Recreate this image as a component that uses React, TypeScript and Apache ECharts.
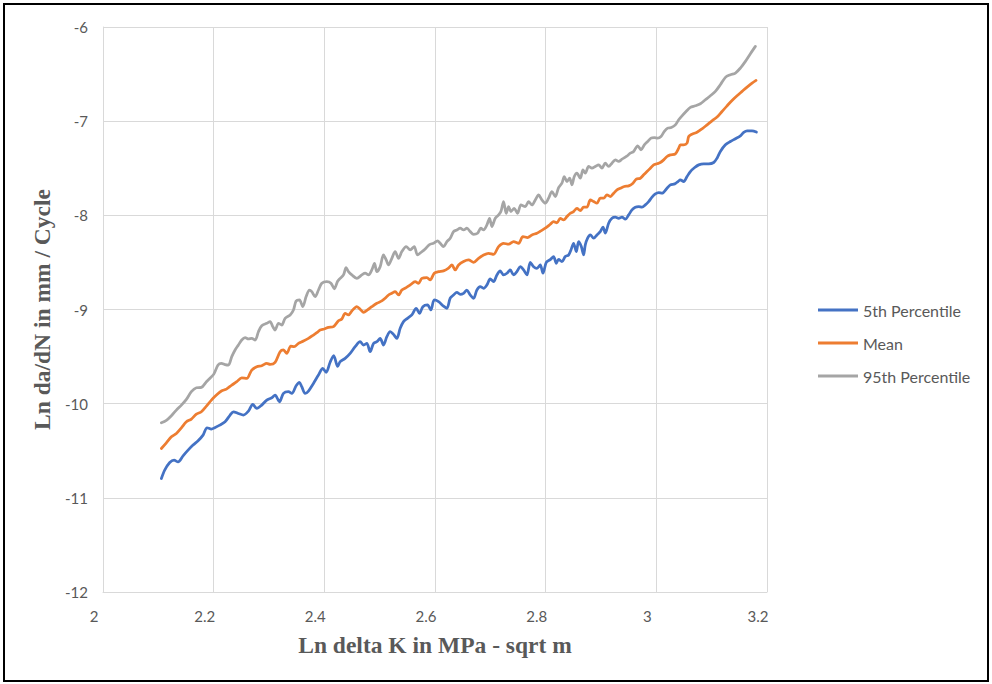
import React, { useEffect, useRef } from "react";
import * as echarts from "echarts";

const seriesNames = ["5th Percentile", "Mean", "95th Percentile"];
const seriesColors = ["#4472C4", "#ED7D31", "#A5A5A5"];

const xTicks = { min: 2, max: 3.2, interval: 0.2 };
const yTicks = { min: -12, max: -6, interval: 1 };

const p5: number[][] = [
  [2.1055, -10.795], [2.1115, -10.706], [2.1206, -10.625], [2.1284, -10.6], [2.1356, -10.618],
  [2.1447, -10.554], [2.1537, -10.494], [2.1627, -10.44], [2.1718, -10.394], [2.1808, -10.334],
  [2.1881, -10.256], [2.1959, -10.27], [2.2019, -10.256], [2.211, -10.228], [2.2206, -10.192],
  [2.2297, -10.121], [2.2357, -10.086], [2.2447, -10.104], [2.2538, -10.121], [2.2628, -10.079],
  [2.2707, -10.008], [2.2779, -10.051], [2.2869, -10.015], [2.296, -9.962], [2.305, -9.937],
  [2.311, -9.909], [2.3189, -9.98], [2.3261, -9.891], [2.3351, -9.873], [2.3412, -9.891],
  [2.349, -9.81], [2.355, -9.774], [2.3592, -9.82], [2.3653, -9.891], [2.3713, -9.866],
  [2.3803, -9.785], [2.3894, -9.696], [2.3972, -9.625], [2.4032, -9.668], [2.4105, -9.56],
  [2.417, -9.49], [2.424, -9.605], [2.4286, -9.554], [2.4376, -9.519], [2.4467, -9.466],
  [2.4557, -9.395], [2.4647, -9.342], [2.4708, -9.377], [2.4768, -9.36], [2.4828, -9.448],
  [2.4889, -9.36], [2.4949, -9.342], [2.5009, -9.307], [2.5069, -9.377], [2.513, -9.289],
  [2.519, -9.236], [2.525, -9.264], [2.531, -9.307], [2.5371, -9.2], [2.5431, -9.129],
  [2.5503, -9.094], [2.5582, -9.058], [2.566, -8.987], [2.572, -9.041], [2.5781, -8.97],
  [2.5865, -8.952], [2.5925, -9.005], [2.5986, -8.899], [2.6064, -8.917], [2.6154, -8.965],
  [2.6215, -8.987], [2.6275, -8.88], [2.6335, -8.846], [2.6395, -8.818], [2.6456, -8.839],
  [2.6516, -8.828], [2.6576, -8.793], [2.6637, -8.846], [2.6697, -8.881], [2.6757, -8.793],
  [2.6817, -8.757], [2.6878, -8.775], [2.6938, -8.739], [2.6998, -8.676], [2.7058, -8.704],
  [2.7119, -8.633], [2.7179, -8.591], [2.7239, -8.633], [2.73, -8.615], [2.736, -8.58],
  [2.742, -8.633], [2.748, -8.598], [2.7541, -8.545], [2.7601, -8.58], [2.7661, -8.633],
  [2.7722, -8.499], [2.7782, -8.545], [2.7842, -8.562], [2.7902, -8.527], [2.7951, -8.615],
  [2.8011, -8.499], [2.8083, -8.47], [2.8143, -8.438], [2.8192, -8.509], [2.8234, -8.467],
  [2.8294, -8.491], [2.8354, -8.438], [2.8415, -8.421], [2.8457, -8.368], [2.8505, -8.297],
  [2.8553, -8.385], [2.8596, -8.279], [2.8644, -8.332], [2.8686, -8.421], [2.8716, -8.314],
  [2.8758, -8.243], [2.8807, -8.208], [2.8867, -8.243], [2.8927, -8.208], [2.8987, -8.173],
  [2.9036, -8.126], [2.9078, -8.19], [2.9138, -8.084], [2.9198, -8.031], [2.9259, -8.02],
  [2.9319, -8.031], [2.9379, -8.02], [2.9439, -8.041], [2.95, -7.995], [2.956, -7.942],
  [2.962, -7.914], [2.9681, -7.907], [2.9741, -7.914], [2.9801, -7.889], [2.9861, -7.854],
  [2.9922, -7.807], [2.9982, -7.772], [3.0042, -7.758], [3.0103, -7.765], [3.0193, -7.712],
  [3.0253, -7.677], [3.0332, -7.666], [3.0392, -7.641], [3.0434, -7.623], [3.0494, -7.641],
  [3.0555, -7.588], [3.0615, -7.535], [3.0693, -7.492], [3.0766, -7.464], [3.0856, -7.453],
  [3.0947, -7.453], [3.1037, -7.439], [3.1097, -7.393], [3.1157, -7.322], [3.1248, -7.251],
  [3.1338, -7.216], [3.1429, -7.187], [3.1519, -7.156], [3.1579, -7.12], [3.164, -7.102],
  [3.173, -7.102], [3.1808, -7.116],
];

const mean: number[][] = [
  [2.1055, -10.476], [2.1145, -10.416], [2.1236, -10.352], [2.1326, -10.316], [2.1417, -10.256],
  [2.1507, -10.192], [2.1597, -10.164], [2.1688, -10.111], [2.1778, -10.086], [2.1869, -10.026],
  [2.1959, -9.962], [2.205, -9.909], [2.214, -9.866], [2.223, -9.845], [2.2327, -9.802],
  [2.2417, -9.767], [2.2507, -9.725], [2.2598, -9.732], [2.2688, -9.643], [2.2779, -9.608],
  [2.2869, -9.597], [2.296, -9.572], [2.302, -9.583], [2.311, -9.561], [2.3201, -9.448],
  [2.3261, -9.43], [2.3321, -9.466], [2.3394, -9.388], [2.3454, -9.395], [2.3532, -9.36],
  [2.3623, -9.335], [2.3713, -9.306], [2.3803, -9.271], [2.3864, -9.246], [2.3924, -9.218],
  [2.3996, -9.207], [2.4075, -9.19], [2.4165, -9.182], [2.4256, -9.12], [2.4316, -9.101],
  [2.4376, -9.041], [2.4436, -9.058], [2.4497, -9.016], [2.4587, -8.97], [2.466, -9.005],
  [2.4708, -9.03], [2.478, -9.005], [2.4858, -8.97], [2.4949, -8.934], [2.5039, -8.909],
  [2.5099, -8.881], [2.516, -8.846], [2.522, -8.828], [2.528, -8.81], [2.5341, -8.846],
  [2.5401, -8.793], [2.5479, -8.768], [2.5552, -8.739], [2.5642, -8.704], [2.5702, -8.722],
  [2.5763, -8.669], [2.5853, -8.662], [2.5913, -8.686], [2.5986, -8.615], [2.6064, -8.598],
  [2.6154, -8.59], [2.6245, -8.56], [2.6305, -8.527], [2.6365, -8.58], [2.6426, -8.527],
  [2.6516, -8.491], [2.6606, -8.474], [2.6697, -8.499], [2.6787, -8.456], [2.6878, -8.421],
  [2.6968, -8.403], [2.7058, -8.414], [2.7149, -8.332], [2.7239, -8.297], [2.733, -8.307],
  [2.742, -8.279], [2.7511, -8.297], [2.7589, -8.226], [2.7673, -8.236], [2.7752, -8.208],
  [2.7842, -8.19], [2.7914, -8.165], [2.7993, -8.137], [2.8083, -8.095], [2.8143, -8.066],
  [2.8204, -8.08], [2.8264, -8.031], [2.8324, -8.049], [2.8385, -8.013], [2.8445, -7.978],
  [2.8505, -7.96], [2.8565, -7.925], [2.8626, -7.949], [2.8686, -7.914], [2.8746, -7.914],
  [2.8807, -7.836], [2.8867, -7.854], [2.8927, -7.871], [2.8987, -7.818], [2.9048, -7.818],
  [2.9108, -7.783], [2.9168, -7.8], [2.9229, -7.765], [2.9289, -7.73], [2.9349, -7.712],
  [2.9421, -7.694], [2.95, -7.687], [2.9578, -7.659], [2.9638, -7.616], [2.9711, -7.606],
  [2.9771, -7.57], [2.9831, -7.535], [2.9892, -7.499], [2.9952, -7.464], [3.0012, -7.453],
  [3.0072, -7.439], [3.0133, -7.411], [3.0193, -7.375], [3.0253, -7.358], [3.0344, -7.347],
  [3.0404, -7.287], [3.0434, -7.251], [3.0494, -7.251], [3.0555, -7.233], [3.0585, -7.163],
  [3.0645, -7.138], [3.0735, -7.117], [3.0826, -7.081], [3.0916, -7.039], [3.1007, -6.996],
  [3.1097, -6.957], [3.1187, -6.897], [3.1278, -6.837], [3.1368, -6.78], [3.1459, -6.73],
  [3.1549, -6.684], [3.164, -6.638], [3.173, -6.596], [3.1802, -6.567],
];

const p95: number[][] = [
  [2.1055, -10.203], [2.1145, -10.178], [2.1236, -10.129], [2.1326, -10.068], [2.1417, -10.015],
  [2.1507, -9.955], [2.1597, -9.873], [2.1688, -9.831], [2.1778, -9.827], [2.1869, -9.767],
  [2.1929, -9.732], [2.2, -9.689], [2.2079, -9.59], [2.214, -9.572], [2.2206, -9.585],
  [2.2266, -9.59], [2.2327, -9.501], [2.2387, -9.43], [2.2447, -9.377], [2.2507, -9.324],
  [2.2568, -9.299], [2.2628, -9.313], [2.2688, -9.306], [2.2749, -9.324], [2.2809, -9.236],
  [2.2869, -9.172], [2.296, -9.147], [2.302, -9.129], [2.3068, -9.182], [2.311, -9.218],
  [2.3171, -9.147], [2.3231, -9.165], [2.3291, -9.094], [2.3382, -9.058], [2.3442, -9.005],
  [2.349, -8.91], [2.355, -8.899], [2.361, -8.97], [2.3671, -8.863], [2.3731, -8.793],
  [2.3773, -8.81], [2.3834, -8.863], [2.3894, -8.793], [2.3954, -8.722], [2.4045, -8.704],
  [2.412, -8.72], [2.418, -8.78], [2.424, -8.7], [2.4286, -8.669], [2.4346, -8.633],
  [2.4394, -8.555], [2.4436, -8.598], [2.4497, -8.633], [2.4587, -8.669], [2.4678, -8.633],
  [2.4738, -8.615], [2.4798, -8.633], [2.4858, -8.58], [2.4907, -8.509], [2.4949, -8.598],
  [2.5009, -8.545], [2.5069, -8.421], [2.5118, -8.474], [2.516, -8.527], [2.522, -8.456],
  [2.528, -8.385], [2.5341, -8.456], [2.5401, -8.385], [2.5479, -8.332], [2.5552, -8.367],
  [2.5624, -8.332], [2.5684, -8.421], [2.5744, -8.395], [2.5823, -8.357], [2.5901, -8.31],
  [2.5974, -8.296], [2.6046, -8.27], [2.6094, -8.297], [2.6154, -8.332], [2.6215, -8.279],
  [2.6275, -8.243], [2.6335, -8.173], [2.6395, -8.155], [2.6456, -8.137], [2.6516, -8.155],
  [2.6576, -8.137], [2.6637, -8.173], [2.6697, -8.201], [2.6769, -8.19], [2.6829, -8.137],
  [2.6878, -8.155], [2.6938, -8.102], [2.6986, -8.031], [2.7028, -8.119], [2.7089, -8.031],
  [2.7149, -7.995], [2.7191, -7.96], [2.7239, -7.854], [2.7287, -7.978], [2.733, -7.907],
  [2.7372, -7.96], [2.7432, -7.925], [2.7492, -7.978], [2.7553, -7.889], [2.7631, -7.907],
  [2.7691, -7.854], [2.7752, -7.889], [2.7812, -7.836], [2.7872, -7.783], [2.7932, -7.836],
  [2.7993, -7.871], [2.8053, -7.818], [2.8113, -7.747], [2.8174, -7.8], [2.8234, -7.705],
  [2.8294, -7.659], [2.8336, -7.588], [2.8385, -7.641], [2.8433, -7.606], [2.8475, -7.676],
  [2.8517, -7.588], [2.8565, -7.552], [2.8626, -7.606], [2.8674, -7.517], [2.8716, -7.552],
  [2.8776, -7.481], [2.8837, -7.499], [2.8897, -7.481], [2.8957, -7.464], [2.9017, -7.499],
  [2.9078, -7.446], [2.9138, -7.481], [2.9198, -7.446], [2.9259, -7.411], [2.9319, -7.428],
  [2.9379, -7.404], [2.9458, -7.375], [2.953, -7.34], [2.959, -7.322], [2.9663, -7.262],
  [2.9723, -7.304], [2.9783, -7.251], [2.9843, -7.216], [2.9904, -7.18], [2.9964, -7.175],
  [3.0024, -7.18], [3.0084, -7.163], [3.0145, -7.109], [3.0205, -7.074], [3.0271, -7.067],
  [3.0344, -7.039], [3.0404, -6.985], [3.0464, -6.943], [3.0537, -6.897], [3.0615, -6.854],
  [3.0705, -6.837], [3.0796, -6.815], [3.0886, -6.773], [3.0977, -6.73], [3.1067, -6.684],
  [3.1157, -6.613], [3.1248, -6.535], [3.1338, -6.507], [3.1429, -6.489], [3.1519, -6.436],
  [3.161, -6.365], [3.17, -6.284], [3.179, -6.206],
];

const xTitle = "Ln delta K in MPa - sqrt m";
const yTitle = "Ln da/dN in mm / Cycle";

const seriesData = [p5, mean, p95];

export default function App() {
  const ref = useRef<HTMLDivElement>(null);

  useEffect(() => {
    if (!ref.current) return;
    const chart = echarts.init(ref.current, undefined, { renderer: "svg" });
    const labelColor = "#595959";
    const gridColor = "#D9D9D9";
    chart.setOption({
      animation: false,
      backgroundColor: "#ffffff",
      grid: { left: 103, right: 225, top: 27, bottom: 92, containLabel: false },
      legend: {
        orient: "vertical",
        left: 813,
        top: 297,
        itemWidth: 40,
        itemHeight: 3,
        itemGap: 17,
        icon: "rect",
        textStyle: { color: labelColor, fontSize: 16, fontFamily: "Lato", lineHeight: 16 },
        data: seriesNames,
      },
      xAxis: {
        type: "value",
        min: xTicks.min,
        max: xTicks.max,
        interval: xTicks.interval,
        axisLine: { show: true, lineStyle: { color: gridColor, width: 1 } },
        axisTick: { show: false },
        splitLine: { show: true, lineStyle: { color: gridColor, width: 1 } },
        axisLabel: {
          color: labelColor,
          fontSize: 15,
          fontFamily: "Lato",
          margin: 16,
          padding: [0, 18, 0, 0],
          formatter: (v: number) => String(Math.round(v * 10) / 10),
        },
        name: xTitle,
        nameLocation: "middle",
        nameGap: 41,
        nameTextStyle: {
          color: labelColor,
          fontSize: 23.5,
          fontWeight: "bold",
          fontFamily: "Liberation Serif",
        },
      },
      yAxis: {
        type: "value",
        min: yTicks.min,
        max: yTicks.max,
        interval: yTicks.interval,
        axisLine: { show: true, lineStyle: { color: gridColor, width: 1 } },
        axisTick: { show: false },
        splitLine: { show: true, lineStyle: { color: gridColor, width: 1 } },
        axisLabel: { color: labelColor, fontSize: 15, fontFamily: "Lato", margin: 15 },
        name: yTitle,
        nameLocation: "middle",
        nameRotate: 90,
        nameGap: 46,
        nameTextStyle: {
          color: labelColor,
          fontSize: 23.5,
          fontWeight: "bold",
          fontFamily: "Liberation Serif",
        },
      },
      series: seriesNames.map((name, i) => ({
        name,
        type: "line",
        data: seriesData[i],
        showSymbol: false,
        symbol: "none",
        smooth: 0.3,
        color: seriesColors[i],
        lineStyle: { color: seriesColors[i], width: 2.75, cap: "round", join: "round" },
      })),
    });
    return () => chart.dispose();
  }, []);

  return (
    <div style={{ position: "fixed", left: 0, top: 0, width: 992, height: 684, background: "#fff" }}>
      <div ref={ref} style={{ position: "absolute", left: 0, top: 0, width: 992, height: 684 }} />
      <div
        style={{
          position: "absolute",
          left: 3,
          top: 3,
          width: 986,
          height: 679,
          boxSizing: "border-box",
          border: "2px solid #000",
          pointerEvents: "none",
        }}
      />
    </div>
  );
}
